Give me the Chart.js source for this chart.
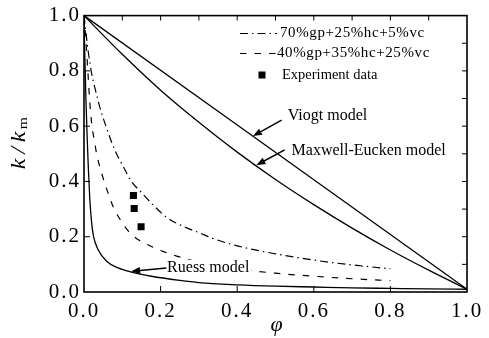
<!DOCTYPE html>
<html>
<head>
<meta charset="utf-8">
<script src="https://cdn.jsdelivr.net/npm/chart.js@4.4.0/dist/chart.umd.min.js"></script>
<style>
html, body { margin: 0; padding: 0; background: #fff; }
</style>
</head>
<body>
<canvas id="myChart" width="489" height="338"></canvas>
<script>
// values
const tickValues = [0, 0.2, 0.4, 0.6, 0.8, 1.0];
const tickLabels = ['0.0', '0.2', '0.4', '0.6', '0.8', '1.0'];

const phiVoigt = [0, 1.0];
const kVoigt = [1.0, 0.01];

const phiME = [0, 0.1, 0.2, 0.3, 0.4, 0.5, 0.6, 0.7, 0.8, 0.9, 1.0];
const kME = [1.0, 0.86, 0.73, 0.614, 0.506, 0.407, 0.316, 0.231, 0.152, 0.079, 0.01];

const phiReuss = [0, 0.002, 0.005, 0.008, 0.011, 0.015, 0.02, 0.025, 0.037, 0.059, 0.089, 0.124, 0.176, 0.25, 0.3, 0.4, 0.5, 0.6, 0.7, 0.8, 0.9, 1.0];
const kReuss = [1.0, 0.86, 0.7, 0.57, 0.46, 0.34, 0.25, 0.2, 0.153, 0.111, 0.087, 0.072, 0.057, 0.042, 0.034, 0.026, 0.021, 0.018, 0.015, 0.013, 0.011, 0.01];

const phiMix70 = [0, 0.005, 0.011, 0.02, 0.03, 0.041, 0.059, 0.08, 0.102, 0.124, 0.15, 0.172, 0.216, 0.268, 0.3, 0.338, 0.4, 0.5, 0.564, 0.65, 0.72, 0.8];
const kMix70 = [1.0, 0.94, 0.87, 0.79, 0.73, 0.67, 0.593, 0.515, 0.455, 0.40, 0.36, 0.327, 0.27, 0.232, 0.215, 0.193, 0.167, 0.138, 0.123, 0.106, 0.095, 0.084];

const phiMix40 = [0, 0.005, 0.01, 0.015, 0.02, 0.028, 0.033, 0.046, 0.063, 0.076, 0.094, 0.116, 0.142, 0.168, 0.2, 0.242, 0.3, 0.35, 0.4, 0.45, 0.5, 0.6, 0.7, 0.8];
const kMix40 = [1.0, 0.91, 0.8, 0.69, 0.61, 0.54, 0.50, 0.43, 0.357, 0.309, 0.263, 0.22, 0.189, 0.17, 0.15, 0.13, 0.108, 0.094, 0.083, 0.075, 0.068, 0.057, 0.048, 0.041];

const phiExp = [0.129, 0.131, 0.149];
const kExp = [0.349, 0.302, 0.236];

const pts = (xs, ys) => xs.map((x, i) => ({ x: x, y: ys[i] }));

const serif = '"Liberation Serif", "Times New Roman", serif';
const dashDot = [8, 4, 1.5, 4];
const dashed = [6.5, 8];

// text labels with arrows, placed in data units
const notes = [
  { text: 'Viogt model', at: [0.532, 0.636], from: [0.516, 0.622], to: [0.441, 0.564] },
  { text: 'Maxwell-Eucken model', at: [0.542, 0.511], from: [0.524, 0.514], to: [0.450, 0.459] },
  { text: 'Ruess model', at: [0.217, 0.088], from: [0.215, 0.087], to: [0.123, 0.075] }
];

function arrow(ctx, x1, y1, x2, y2) {
  const ang = Math.atan2(y2 - y1, x2 - x1);
  const L = 9, W = 3.5;
  const c = Math.cos(ang), s = Math.sin(ang);
  ctx.beginPath();
  ctx.moveTo(x1, y1);
  ctx.lineTo(x2 - c * 4, y2 - s * 4);
  ctx.stroke();
  ctx.beginPath();
  ctx.moveTo(x2, y2);
  ctx.lineTo(x2 - L * c + W * s, y2 - L * s - W * c);
  ctx.lineTo(x2 - L * c - W * s, y2 - L * s + W * c);
  ctx.closePath();
  ctx.fill();
}

const extras = {
  id: 'extras',
  beforeDraw(chart) { chart.ctx.letterSpacing = '2px'; },
  beforeDatasetsDraw(chart) { chart.ctx.letterSpacing = '0px'; },
  afterDraw(chart) {
    const { ctx, chartArea: a, scales: { x, y } } = chart;
    ctx.save();
    ctx.letterSpacing = '0px';
    ctx.strokeStyle = '#000';
    ctx.fillStyle = '#000';

    // annotations (text box hides the curve behind it)
    ctx.font = '16px ' + serif;
    ctx.textAlign = 'left';
    ctx.textBaseline = 'middle';
    ctx.lineWidth = 1.5;
    notes.forEach(n => {
      const tx = x.getPixelForValue(n.at[0]), ty = y.getPixelForValue(n.at[1]);
      const w = ctx.measureText(n.text).width;
      ctx.fillStyle = '#fff';
      ctx.fillRect(tx - 1, ty - 8, w + 3, 15);
      ctx.fillStyle = '#000';
      ctx.fillText(n.text, tx, ty);
      arrow(ctx,
        x.getPixelForValue(n.from[0]), y.getPixelForValue(n.from[1]),
        x.getPixelForValue(n.to[0]), y.getPixelForValue(n.to[1]));
    });

    // frame
    ctx.lineWidth = 1.6;
    ctx.strokeRect(a.left, a.top, a.right - a.left, a.bottom - a.top);

    // inward ticks
    ctx.lineWidth = 1;
    for (let i = 1; i < 10; i++) {
      const px = x.getPixelForValue(i / 10);
      const py = y.getPixelForValue(i / 10);
      ctx.beginPath();
      if (i % 2 === 0) {
        ctx.moveTo(px, a.bottom); ctx.lineTo(px, a.bottom - 6);
        ctx.moveTo(a.left, py); ctx.lineTo(a.left + 6, py);
      }
      ctx.moveTo(px, a.top); ctx.lineTo(px, a.top + 5);
      ctx.moveTo(a.right, py); ctx.lineTo(a.right - 5, py);
      ctx.stroke();
    }

    // axis titles
    ctx.textAlign = 'center';
    ctx.textBaseline = 'alphabetic';
    ctx.font = 'italic 22px ' + serif;
    ctx.fillText('\u03c6', (a.left + a.right) / 2 + 1, 331);

    ctx.save();
    ctx.translate(25, 142);
    ctx.rotate(-Math.PI / 2);
    ctx.scale(1.2, 1);
    ctx.textAlign = 'left';
    ctx.letterSpacing = '4px';
    ctx.font = 'italic 20px ' + serif;
    const w1 = ctx.measureText('k/k').width;
    ctx.letterSpacing = '0px';
    ctx.font = '13px ' + serif;
    const w2 = ctx.measureText('m').width;
    const x0 = -(w1 + w2) / 2;
    ctx.letterSpacing = '4px';
    ctx.font = 'italic 20px ' + serif;
    ctx.fillText('k/k', x0, 0);
    ctx.letterSpacing = '0px';
    ctx.font = '13px ' + serif;
    ctx.fillText('m', x0 + w1 - 2, 2);
    ctx.restore();

    // legend
    ctx.lineWidth = 1.2;
    ctx.setLineDash(dashDot);
    ctx.beginPath(); ctx.moveTo(240, 33.5); ctx.lineTo(277, 33.5); ctx.stroke();
    ctx.setLineDash(dashed);
    ctx.beginPath(); ctx.moveTo(240, 53.5); ctx.lineTo(277, 53.5); ctx.stroke();
    ctx.setLineDash([]);
    ctx.fillRect(258.5, 71.5, 7, 7);
    ctx.textAlign = 'left';
    ctx.textBaseline = 'middle';
    ctx.font = '15px ' + serif;
    ctx.letterSpacing = '0.6px';
    ctx.fillText('70%gp+25%hc+5%vc', 280, 33.5);
    ctx.fillText('40%gp+35%hc+25%vc', 277, 53.5);
    ctx.letterSpacing = '0px';
    ctx.font = '14.5px ' + serif;
    ctx.fillText('Experiment data', 282, 75);
    ctx.restore();
  }
};

const lineBase = {
  type: 'line',
  borderColor: '#000',
  borderWidth: 1.3,
  pointRadius: 0,
  fill: false,
  cubicInterpolationMode: 'monotone'
};

const ctx = document.getElementById('myChart').getContext('2d');
new Chart(ctx, {
  type: 'line',
  data: {
    datasets: [
      Object.assign({}, lineBase, { label: 'Viogt model', data: pts(phiVoigt, kVoigt) }),
      Object.assign({}, lineBase, { label: 'Maxwell-Eucken model', data: pts(phiME, kME) }),
      Object.assign({}, lineBase, { label: 'Ruess model', data: pts(phiReuss, kReuss) }),
      Object.assign({}, lineBase, { label: '70%gp+25%hc+5%vc', data: pts(phiMix70, kMix70), borderDash: dashDot, borderWidth: 1.2 }),
      Object.assign({}, lineBase, { label: '40%gp+35%hc+25%vc', data: pts(phiMix40, kMix40), borderDash: dashed, borderWidth: 1.2 }),
      {
        type: 'scatter',
        label: 'Experiment data',
        data: pts(phiExp, kExp),
        pointStyle: 'rect',
        pointRadius: 5,
        backgroundColor: '#000',
        borderColor: '#000',
        borderWidth: 0
      }
    ]
  },
  options: {
    responsive: false,
    animation: false,
    layout: { padding: { left: 0, top: 15, right: 22, bottom: 0 } },
    plugins: { legend: { display: false }, tooltip: { enabled: false } },
    scales: {
      x: {
        type: 'linear',
        min: 0,
        max: 1,
        grid: { display: false, drawTicks: false },
        border: { display: false },
        afterBuildTicks: s => { s.ticks = tickValues.map(v => ({ value: v })); },
        afterFit: s => { s.height = 46; },
        ticks: {
          autoSkip: false,
          maxRotation: 0,
          padding: 7,
          color: '#000',
          font: { family: serif, size: 21 },
          callback: (v, i) => tickLabels[i]
        }
      },
      y: {
        type: 'linear',
        min: 0,
        max: 1,
        grid: { display: false, drawTicks: false },
        border: { display: false },
        afterBuildTicks: s => { s.ticks = tickValues.map(v => ({ value: v })); },
        afterFit: s => { s.width = 84; },
        ticks: {
          autoSkip: false,
          padding: 3,
          color: '#000',
          font: { family: serif, size: 21 },
          callback: (v, i) => tickLabels[i]
        }
      }
    }
  },
  plugins: [extras]
});
</script>
</body>
</html>
